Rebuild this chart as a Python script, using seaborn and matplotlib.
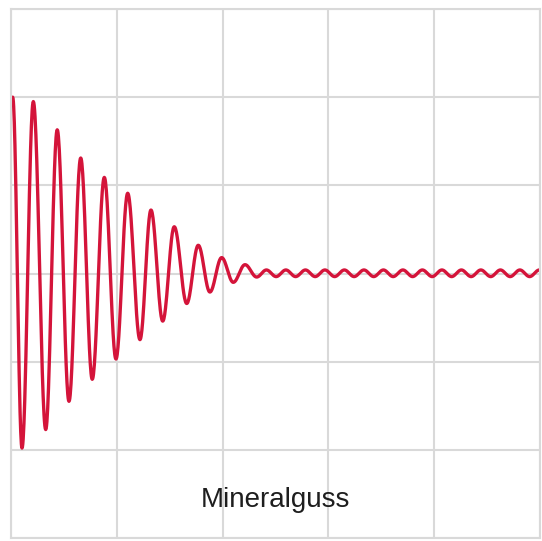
import numpy as np
import pandas as pd
import matplotlib
matplotlib.use("Agg")
import matplotlib.pyplot as plt
import seaborn as sns

# turning points of the damped oscillation (x in grid columns, y in grid rows)
peak_x = [0.016, 0.104, 0.211, 0.328, 0.437, 0.548, 0.659, 0.768, 0.882, 0.992,
          1.103, 1.219, 1.323, 1.434, 1.543, 1.661, 1.770, 1.880, 1.991, 2.101,
          2.212, 2.322]
peak_y = [2.00, -1.98, 1.95, -1.77, 1.63, -1.45, 1.31, -1.20, 1.09, -0.97,
          0.91, -0.75, 0.72, -0.54, 0.53, -0.34, 0.32, -0.21, 0.18, -0.10,
          0.10, -0.04]

# small residual ripple after the decay
ripple_x = [2.414, 2.506, 2.598, 2.690, 2.783, 2.875, 2.967, 3.059, 3.151, 3.243,
            3.336, 3.428, 3.520, 3.612, 3.704, 3.796, 3.888, 3.981, 4.073, 4.165,
            4.257, 4.349, 4.441, 4.534, 4.626, 4.718, 4.810, 4.902, 4.994]
ripple_y = [0.04, -0.035, 0.04, -0.035, 0.04, -0.035, 0.04, -0.035, 0.04, -0.035,
            0.04, -0.035, 0.04, -0.035, 0.04, -0.035, 0.04, -0.035, 0.04, -0.035,
            0.04, -0.035, 0.04, -0.035, 0.04, -0.035, 0.04, -0.035, 0.04]

label = "Mineralguss"


def smooth_path(xs, ys, n=30):
	# half-cosine swing between neighbouring turning points
	px, py = [xs[0]], [ys[0]]
	for i in range(len(xs) - 1):
		t = np.linspace(0, 1, n)[1:]
		px.extend(xs[i] + (xs[i + 1] - xs[i]) * t)
		py.extend(ys[i] + (ys[i + 1] - ys[i]) * (1 - np.cos(np.pi * t)) / 2)
	return pd.DataFrame({"x": px, "y": py})


def main():
	sns.set_style("white")
	plt.rcParams['font.family'] = ['Liberation Sans', 'DejaVu Sans']

	fig = plt.figure(figsize=(5.42, 5.41), dpi=100)
	ax = fig.add_axes([11 / 542, 3 / 541, 529 / 542, 529 / 541])

	df = smooth_path(peak_x + ripple_x, peak_y + ripple_y)
	sns.lineplot(data=df, x="x", y="y", sort=False, ax=ax, color="#d4143a", linewidth=2.4)

	ax.set_xlim(0, 5)
	ax.set_ylim(-3, 3)
	ax.set_xticks(np.arange(0, 6))
	ax.set_yticks(np.arange(-3, 4))
	ax.grid(True, color="#d9d9d9", linewidth=1.5)
	ax.tick_params(length=0, labelbottom=False, labelleft=False)
	ax.set_xlabel('')
	ax.set_ylabel('')
	for sp in ax.spines.values():
		sp.set_color("#d9d9d9")
		sp.set_linewidth(1.5)

	ax.text(2.5, -2.65, label, ha="center", va="baseline", fontsize=20, color="#1e1e1e")

	fig.savefig("out.png", dpi=100, facecolor="white")


if __name__ == "__main__":
	main()
